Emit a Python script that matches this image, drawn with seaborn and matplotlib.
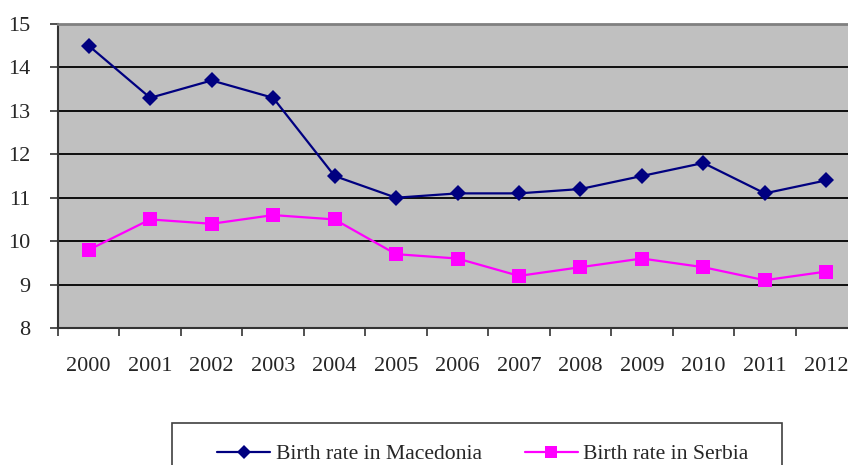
import numpy as np
import pandas as pd
import matplotlib
matplotlib.use("Agg")
import matplotlib.pyplot as plt
from matplotlib.patches import Rectangle
import seaborn as sns

years = ["2000", "2001", "2002", "2003", "2004", "2005", "2006",
         "2007", "2008", "2009", "2010", "2011", "2012"]
macedonia = [14.5, 13.3, 13.7, 13.3, 11.5, 11.0, 11.1, 11.1, 11.2, 11.5, 11.8, 11.1, 11.4]
serbia = [9.8, 10.5, 10.4, 10.6, 10.5, 9.7, 9.6, 9.2, 9.4, 9.6, 9.4, 9.1, 9.3]
series_names = ["Birth rate in Macedonia", "Birth rate in Serbia"]

sns.set_style("white")
plt.rcParams["font.family"] = ["Liberation Serif", "DejaVu Serif"]

W, H = 848, 465
fig = plt.figure(figsize=(W / 100, H / 100), dpi=100)
ax = fig.add_axes([58 / W, 1 - 328 / H, (857 - 58) / W, (328 - 24) / H])
ax.set_facecolor("#c0c0c0")

idx = np.arange(len(years))
df = pd.DataFrame({"x": np.concatenate([idx, idx]),
                   "rate": macedonia + serbia,
                   "series": [series_names[0]] * len(years) + [series_names[1]] * len(years)})

sns.lineplot(data=df, x="x", y="rate", hue="series", style="series",
             palette=["#000080", "#ff00ff"], markers=["D", "s"], dashes=False,
             linewidth=1.6, markersize=8, markeredgewidth=0, ax=ax, legend=False)
# square marker slightly bigger
ax.lines[1].set_markersize(10)

ax.set_xlim(-0.5, 12.5)
ax.set_ylim(8, 15)
ax.set_yticks(range(8, 16))
ax.yaxis.grid(True, color="black", linewidth=1.3)
ax.set_axisbelow(True)

ax.set_xticks(np.arange(-0.5, 13, 1))
ax.set_xticklabels([])
ax.set_xticks(idx, minor=True)
ax.set_xticklabels(years, minor=True)
ax.tick_params(axis="x", which="major", length=6, width=1.2, color="#333333", direction="out", bottom=True)
ax.tick_params(axis="x", which="minor", length=0, pad=21, labelsize=16)
ax.tick_params(axis="y", length=6, width=1.2, color="#333333", direction="out", left=True,
               labelsize=16, pad=14)
ax.set_xlabel("")
ax.set_ylabel("")

for s in ["left", "bottom"]:
    ax.spines[s].set_color("#333333")
    ax.spines[s].set_linewidth(1.5)
ax.spines["top"].set_color("#808080")
ax.spines["top"].set_linewidth(2)
ax.spines["right"].set_visible(False)

# legend box (cut by the bottom edge, as in the source)
fig.patches.append(Rectangle((172 / W, -0.1), (782 - 172) / W, (465 - 423) / H + 0.1,
                             transform=fig.transFigure, fill=False,
                             edgecolor="#404040", linewidth=1.2))
handles = [plt.Line2D([], [], color="#000080", marker="D", markersize=7, markeredgewidth=0, linewidth=1.6),
           plt.Line2D([], [], color="#ff00ff", marker="s", markersize=8, markeredgewidth=0, linewidth=1.6)]
fig.legend(handles, series_names, loc="center left", bbox_to_anchor=(217 / W, 1 - 454 / H),
           ncol=2, frameon=False, fontsize=15.6, handlelength=2.45, handletextpad=0.25,
           columnspacing=2.0, borderpad=0, borderaxespad=0)

fig.savefig("out.png", dpi=100)
